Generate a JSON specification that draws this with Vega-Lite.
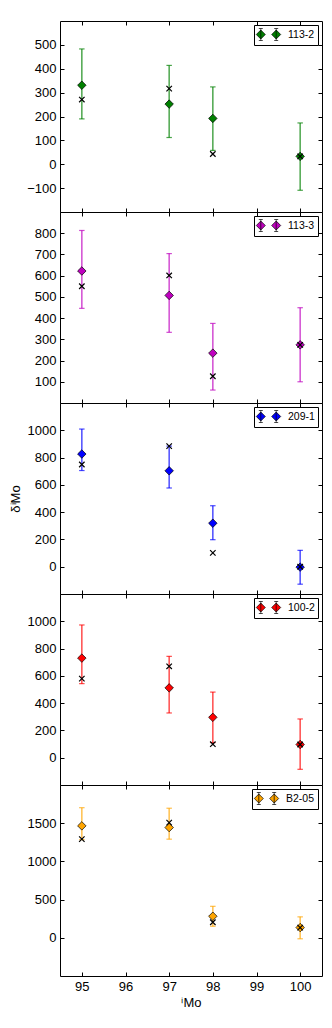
{
  "$schema": "https://vega.github.io/schema/vega-lite/v6.json",
  "padding": {"left": 8, "top": 20, "right": 10, "bottom": 5},
  "background": "white",
  "spacing": 0,
  "bounds": "flush",
  "datasets": {
    "pts": [
      {"sample": "113-2", "iso": 95, "val": 331, "lo": 190, "hi": 483, "model": 271},
      {"sample": "113-2", "iso": 97, "val": 252, "lo": 112, "hi": 414, "model": 317},
      {"sample": "113-2", "iso": 98, "val": 192, "lo": 58, "hi": 324, "model": 43},
      {"sample": "113-2", "iso": 100, "val": 33, "lo": -109, "hi": 173, "model": 33},
      {"sample": "113-3", "iso": 95, "val": 622, "lo": 446, "hi": 813, "model": 550},
      {"sample": "113-3", "iso": 97, "val": 507, "lo": 333, "hi": 704, "model": 601},
      {"sample": "113-3", "iso": 98, "val": 235, "lo": 61, "hi": 375, "model": 126},
      {"sample": "113-3", "iso": 100, "val": 274, "lo": 100, "hi": 449, "model": 274},
      {"sample": "209-1", "iso": 95, "val": 826, "lo": 705, "hi": 1009, "model": 749},
      {"sample": "209-1", "iso": 97, "val": 703, "lo": 577, "hi": 884, "model": 884},
      {"sample": "209-1", "iso": 98, "val": 319, "lo": 198, "hi": 447, "model": 101},
      {"sample": "209-1", "iso": 100, "val": -3, "lo": -128, "hi": 120, "model": 0},
      {"sample": "100-2", "iso": 95, "val": 730, "lo": 543, "hi": 973, "model": 580},
      {"sample": "100-2", "iso": 97, "val": 512, "lo": 328, "hi": 743, "model": 670},
      {"sample": "100-2", "iso": 98, "val": 296, "lo": 111, "hi": 481, "model": 99},
      {"sample": "100-2", "iso": 100, "val": 97, "lo": -85, "hi": 284, "model": 97},
      {"sample": "B2-05", "iso": 95, "val": 1465, "lo": 1285, "hi": 1703, "model": 1291},
      {"sample": "B2-05", "iso": 97, "val": 1443, "lo": 1291, "hi": 1696, "model": 1508},
      {"sample": "B2-05", "iso": 98, "val": 282, "lo": 151, "hi": 412, "model": 204},
      {"sample": "B2-05", "iso": 100, "val": 134, "lo": -13, "hi": 274, "model": 134}
    ]
  },
  "vconcat": [
    {
      "width": 262, "height": 191,
      "data": {"name": "pts"},
      "transform": [{"filter": "datum.sample === '113-2'"}],
      "layer": [
        {"mark": {"type": "rule", "color": "#008000", "opacity": 0.7, "strokeWidth": 1.5},
         "encoding": {
           "x": {"field": "iso", "type": "quantitative", "scale": {"domain": [94.5, 100.5], "nice": false, "zero": false}, "axis": {"orient": "bottom", "values": [95, 96, 97, 98, 99, 100], "labels": false, "title": null}},
           "y": {"field": "lo", "type": "quantitative", "scale": {"domain": [-200, 600], "nice": false, "zero": false}, "axis": {"orient": "left", "values": [-100, 0, 100, 200, 300, 400, 500], "title": null}},
           "y2": {"field": "hi"}}},
        {"mark": {"type": "point", "shape": "M-1,0L1,0", "size": 30, "filled": false, "stroke": "#008000", "opacity": 0.7, "strokeWidth": 1.2},
         "encoding": {"x": {"field": "iso", "type": "quantitative", "scale": {"domain": [94.5, 100.5], "nice": false, "zero": false}, "axis": null},
           "y": {"field": "lo", "type": "quantitative", "scale": {"domain": [-200, 600], "nice": false, "zero": false}, "axis": null}}},
        {"mark": {"type": "point", "shape": "M-1,0L1,0", "size": 30, "filled": false, "stroke": "#008000", "opacity": 0.7, "strokeWidth": 1.2},
         "encoding": {"x": {"field": "iso", "type": "quantitative", "scale": {"domain": [94.5, 100.5], "nice": false, "zero": false}, "axis": null},
           "y": {"field": "hi", "type": "quantitative", "scale": {"domain": [-200, 600], "nice": false, "zero": false}, "axis": null}}},
        {"mark": {"type": "point", "shape": "diamond", "filled": true, "size": 72, "stroke": "black", "strokeWidth": 0.7, "opacity": 1},
         "encoding": {"x": {"field": "iso", "type": "quantitative", "scale": {"domain": [94.5, 100.5], "nice": false, "zero": false}, "axis": null},
           "y": {"field": "val", "type": "quantitative", "scale": {"domain": [-200, 600], "nice": false, "zero": false}, "axis": null},
           "color": {"field": "sample", "type": "nominal", "scale": {"range": ["#008000"]}, "legend": {}}}},
        {"mark": {"type": "point", "shape": "M-1,-1L1,1M-1,1L1,-1", "size": 30, "filled": false, "stroke": "black", "strokeWidth": 1.2, "opacity": 1},
         "encoding": {"x": {"field": "iso", "type": "quantitative", "scale": {"domain": [94.5, 100.5], "nice": false, "zero": false}, "axis": {"orient": "top", "values": [95, 96, 97, 98, 99, 100], "labels": false, "title": null}},
           "y": {"field": "model", "type": "quantitative", "scale": {"domain": [-200, 600], "nice": false, "zero": false}, "axis": {"orient": "right", "values": [-100, 0, 100, 200, 300, 400, 500], "labels": false, "title": null}}}}
      ],
      "resolve": {"axis": {"x": "independent", "y": "independent"}}
    },
    {
      "width": 262, "height": 191,
      "data": {"name": "pts"},
      "transform": [{"filter": "datum.sample === '113-3'"}],
      "layer": [
        {"mark": {"type": "rule", "color": "#bf00bf", "opacity": 0.7, "strokeWidth": 1.5},
         "encoding": {
           "x": {"field": "iso", "type": "quantitative", "scale": {"domain": [94.5, 100.5], "nice": false, "zero": false}, "axis": {"orient": "bottom", "values": [95, 96, 97, 98, 99, 100], "labels": false, "title": null}},
           "y": {"field": "lo", "type": "quantitative", "scale": {"domain": [0, 900], "nice": false, "zero": false}, "axis": {"orient": "left", "values": [100, 200, 300, 400, 500, 600, 700, 800], "title": null}},
           "y2": {"field": "hi"}}},
        {"mark": {"type": "point", "shape": "M-1,0L1,0", "size": 30, "filled": false, "stroke": "#bf00bf", "opacity": 0.7, "strokeWidth": 1.2},
         "encoding": {"x": {"field": "iso", "type": "quantitative", "scale": {"domain": [94.5, 100.5], "nice": false, "zero": false}, "axis": null},
           "y": {"field": "lo", "type": "quantitative", "scale": {"domain": [0, 900], "nice": false, "zero": false}, "axis": null}}},
        {"mark": {"type": "point", "shape": "M-1,0L1,0", "size": 30, "filled": false, "stroke": "#bf00bf", "opacity": 0.7, "strokeWidth": 1.2},
         "encoding": {"x": {"field": "iso", "type": "quantitative", "scale": {"domain": [94.5, 100.5], "nice": false, "zero": false}, "axis": null},
           "y": {"field": "hi", "type": "quantitative", "scale": {"domain": [0, 900], "nice": false, "zero": false}, "axis": null}}},
        {"mark": {"type": "point", "shape": "diamond", "filled": true, "size": 72, "stroke": "black", "strokeWidth": 0.7, "opacity": 1},
         "encoding": {"x": {"field": "iso", "type": "quantitative", "scale": {"domain": [94.5, 100.5], "nice": false, "zero": false}, "axis": null},
           "y": {"field": "val", "type": "quantitative", "scale": {"domain": [0, 900], "nice": false, "zero": false}, "axis": null},
           "color": {"field": "sample", "type": "nominal", "scale": {"range": ["#bf00bf"]}, "legend": {}}}},
        {"mark": {"type": "point", "shape": "M-1,-1L1,1M-1,1L1,-1", "size": 30, "filled": false, "stroke": "black", "strokeWidth": 1.2, "opacity": 1},
         "encoding": {"x": {"field": "iso", "type": "quantitative", "scale": {"domain": [94.5, 100.5], "nice": false, "zero": false}, "axis": {"orient": "top", "values": [95, 96, 97, 98, 99, 100], "labels": false, "title": null}},
           "y": {"field": "model", "type": "quantitative", "scale": {"domain": [0, 900], "nice": false, "zero": false}, "axis": {"orient": "right", "values": [100, 200, 300, 400, 500, 600, 700, 800], "labels": false, "title": null}}}}
      ],
      "resolve": {"axis": {"x": "independent", "y": "independent"}}
    },
    {
      "width": 262, "height": 191,
      "data": {"name": "pts"},
      "transform": [{"filter": "datum.sample === '209-1'"}],
      "layer": [
        {"mark": {"type": "rule", "color": "#0000ff", "opacity": 0.7, "strokeWidth": 1.5},
         "encoding": {
           "x": {"field": "iso", "type": "quantitative", "scale": {"domain": [94.5, 100.5], "nice": false, "zero": false}, "axis": {"orient": "bottom", "values": [95, 96, 97, 98, 99, 100], "labels": false, "title": null}},
           "y": {"field": "lo", "type": "quantitative", "scale": {"domain": [-200, 1200], "nice": false, "zero": false}, "axis": {"orient": "left", "values": [0, 200, 400, 600, 800, 1000], "title": "δⁱMo", "titlePadding": 5}},
           "y2": {"field": "hi"}}},
        {"mark": {"type": "point", "shape": "M-1,0L1,0", "size": 30, "filled": false, "stroke": "#0000ff", "opacity": 0.7, "strokeWidth": 1.2},
         "encoding": {"x": {"field": "iso", "type": "quantitative", "scale": {"domain": [94.5, 100.5], "nice": false, "zero": false}, "axis": null},
           "y": {"field": "lo", "type": "quantitative", "scale": {"domain": [-200, 1200], "nice": false, "zero": false}, "axis": null}}},
        {"mark": {"type": "point", "shape": "M-1,0L1,0", "size": 30, "filled": false, "stroke": "#0000ff", "opacity": 0.7, "strokeWidth": 1.2},
         "encoding": {"x": {"field": "iso", "type": "quantitative", "scale": {"domain": [94.5, 100.5], "nice": false, "zero": false}, "axis": null},
           "y": {"field": "hi", "type": "quantitative", "scale": {"domain": [-200, 1200], "nice": false, "zero": false}, "axis": null}}},
        {"mark": {"type": "point", "shape": "diamond", "filled": true, "size": 72, "stroke": "black", "strokeWidth": 0.7, "opacity": 1},
         "encoding": {"x": {"field": "iso", "type": "quantitative", "scale": {"domain": [94.5, 100.5], "nice": false, "zero": false}, "axis": null},
           "y": {"field": "val", "type": "quantitative", "scale": {"domain": [-200, 1200], "nice": false, "zero": false}, "axis": null},
           "color": {"field": "sample", "type": "nominal", "scale": {"range": ["#0000ff"]}, "legend": {}}}},
        {"mark": {"type": "point", "shape": "M-1,-1L1,1M-1,1L1,-1", "size": 30, "filled": false, "stroke": "black", "strokeWidth": 1.2, "opacity": 1},
         "encoding": {"x": {"field": "iso", "type": "quantitative", "scale": {"domain": [94.5, 100.5], "nice": false, "zero": false}, "axis": {"orient": "top", "values": [95, 96, 97, 98, 99, 100], "labels": false, "title": null}},
           "y": {"field": "model", "type": "quantitative", "scale": {"domain": [-200, 1200], "nice": false, "zero": false}, "axis": {"orient": "right", "values": [0, 200, 400, 600, 800, 1000], "labels": false, "title": null}}}}
      ],
      "resolve": {"axis": {"x": "independent", "y": "independent"}}
    },
    {
      "width": 262, "height": 191,
      "data": {"name": "pts"},
      "transform": [{"filter": "datum.sample === '100-2'"}],
      "layer": [
        {"mark": {"type": "rule", "color": "#ff0000", "opacity": 0.7, "strokeWidth": 1.5},
         "encoding": {
           "x": {"field": "iso", "type": "quantitative", "scale": {"domain": [94.5, 100.5], "nice": false, "zero": false}, "axis": {"orient": "bottom", "values": [95, 96, 97, 98, 99, 100], "labels": false, "title": null}},
           "y": {"field": "lo", "type": "quantitative", "scale": {"domain": [-200, 1200], "nice": false, "zero": false}, "axis": {"orient": "left", "values": [0, 200, 400, 600, 800, 1000], "title": null}},
           "y2": {"field": "hi"}}},
        {"mark": {"type": "point", "shape": "M-1,0L1,0", "size": 30, "filled": false, "stroke": "#ff0000", "opacity": 0.7, "strokeWidth": 1.2},
         "encoding": {"x": {"field": "iso", "type": "quantitative", "scale": {"domain": [94.5, 100.5], "nice": false, "zero": false}, "axis": null},
           "y": {"field": "lo", "type": "quantitative", "scale": {"domain": [-200, 1200], "nice": false, "zero": false}, "axis": null}}},
        {"mark": {"type": "point", "shape": "M-1,0L1,0", "size": 30, "filled": false, "stroke": "#ff0000", "opacity": 0.7, "strokeWidth": 1.2},
         "encoding": {"x": {"field": "iso", "type": "quantitative", "scale": {"domain": [94.5, 100.5], "nice": false, "zero": false}, "axis": null},
           "y": {"field": "hi", "type": "quantitative", "scale": {"domain": [-200, 1200], "nice": false, "zero": false}, "axis": null}}},
        {"mark": {"type": "point", "shape": "diamond", "filled": true, "size": 72, "stroke": "black", "strokeWidth": 0.7, "opacity": 1},
         "encoding": {"x": {"field": "iso", "type": "quantitative", "scale": {"domain": [94.5, 100.5], "nice": false, "zero": false}, "axis": null},
           "y": {"field": "val", "type": "quantitative", "scale": {"domain": [-200, 1200], "nice": false, "zero": false}, "axis": null},
           "color": {"field": "sample", "type": "nominal", "scale": {"range": ["#ff0000"]}, "legend": {}}}},
        {"mark": {"type": "point", "shape": "M-1,-1L1,1M-1,1L1,-1", "size": 30, "filled": false, "stroke": "black", "strokeWidth": 1.2, "opacity": 1},
         "encoding": {"x": {"field": "iso", "type": "quantitative", "scale": {"domain": [94.5, 100.5], "nice": false, "zero": false}, "axis": {"orient": "top", "values": [95, 96, 97, 98, 99, 100], "labels": false, "title": null}},
           "y": {"field": "model", "type": "quantitative", "scale": {"domain": [-200, 1200], "nice": false, "zero": false}, "axis": {"orient": "right", "values": [0, 200, 400, 600, 800, 1000], "labels": false, "title": null}}}}
      ],
      "resolve": {"axis": {"x": "independent", "y": "independent"}}
    },
    {
      "width": 262, "height": 191,
      "data": {"name": "pts"},
      "transform": [{"filter": "datum.sample === 'B2-05'"}],
      "layer": [
        {"mark": {"type": "rule", "color": "#ffa500", "opacity": 0.7, "strokeWidth": 1.5},
         "encoding": {
           "x": {"field": "iso", "type": "quantitative", "scale": {"domain": [94.5, 100.5], "nice": false, "zero": false}, "axis": {"orient": "bottom", "values": [95, 96, 97, 98, 99, 100], "labels": true, "title": "ⁱMo", "titlePadding": 3}},
           "y": {"field": "lo", "type": "quantitative", "scale": {"domain": [-500, 2000], "nice": false, "zero": false}, "axis": {"orient": "left", "values": [0, 500, 1000, 1500], "title": null}},
           "y2": {"field": "hi"}}},
        {"mark": {"type": "point", "shape": "M-1,0L1,0", "size": 30, "filled": false, "stroke": "#ffa500", "opacity": 0.7, "strokeWidth": 1.2},
         "encoding": {"x": {"field": "iso", "type": "quantitative", "scale": {"domain": [94.5, 100.5], "nice": false, "zero": false}, "axis": null},
           "y": {"field": "lo", "type": "quantitative", "scale": {"domain": [-500, 2000], "nice": false, "zero": false}, "axis": null}}},
        {"mark": {"type": "point", "shape": "M-1,0L1,0", "size": 30, "filled": false, "stroke": "#ffa500", "opacity": 0.7, "strokeWidth": 1.2},
         "encoding": {"x": {"field": "iso", "type": "quantitative", "scale": {"domain": [94.5, 100.5], "nice": false, "zero": false}, "axis": null},
           "y": {"field": "hi", "type": "quantitative", "scale": {"domain": [-500, 2000], "nice": false, "zero": false}, "axis": null}}},
        {"mark": {"type": "point", "shape": "diamond", "filled": true, "size": 72, "stroke": "black", "strokeWidth": 0.7, "opacity": 1},
         "encoding": {"x": {"field": "iso", "type": "quantitative", "scale": {"domain": [94.5, 100.5], "nice": false, "zero": false}, "axis": null},
           "y": {"field": "val", "type": "quantitative", "scale": {"domain": [-500, 2000], "nice": false, "zero": false}, "axis": null},
           "color": {"field": "sample", "type": "nominal", "scale": {"range": ["#ffa500"]}, "legend": {}}}},
        {"mark": {"type": "point", "shape": "M-1,-1L1,1M-1,1L1,-1", "size": 30, "filled": false, "stroke": "black", "strokeWidth": 1.2, "opacity": 1},
         "encoding": {"x": {"field": "iso", "type": "quantitative", "scale": {"domain": [94.5, 100.5], "nice": false, "zero": false}, "axis": {"orient": "top", "values": [95, 96, 97, 98, 99, 100], "labels": false, "title": null}},
           "y": {"field": "model", "type": "quantitative", "scale": {"domain": [-500, 2000], "nice": false, "zero": false}, "axis": {"orient": "right", "values": [0, 500, 1000, 1500], "labels": false, "title": null}}}}
      ],
      "resolve": {"axis": {"x": "independent", "y": "independent"}}
    }
  ],
  "resolve": {"scale": {"color": "independent", "x": "independent", "y": "independent"}, "legend": {"color": "independent"}},
  "config": {
    "view": {"stroke": "black", "strokeWidth": 1},
    "axis": {"domain": false, "grid": false, "format": "d", "tickColor": "black", "tickWidth": 1, "tickSize": -4, "labelPadding": 8, "labelColor": "black", "labelFont": "Liberation Sans", "labelFontSize": 13, "labelOverlap": false, "labelFlush": false, "titleFont": "Liberation Sans", "titleFontSize": 13, "titleFontWeight": "normal", "titleColor": "black"},
    "legend": {"orient": "top-right", "offset": 4, "padding": 3, "title": null, "strokeColor": "black", "fillColor": "white", "cornerRadius": 0, "labelFont": "Liberation Sans", "labelFontSize": 10.5, "labelColor": "black", "symbolType": "M-1.283,-1V1M-1.617,-1H-0.95M-1.617,1H-0.95M-1.283,-0.75L-0.533,0L-1.283,0.75L-2.033,0ZM1.283,-1V1M0.95,-1H1.617M0.95,1H1.617M1.283,-0.75L2.033,0L1.283,0.75L0.533,0Z", "symbolSize": 144, "symbolStrokeColor": "black", "symbolStrokeWidth": 0.7, "symbolOffset": 5, "labelOffset": 13}
  }
}
